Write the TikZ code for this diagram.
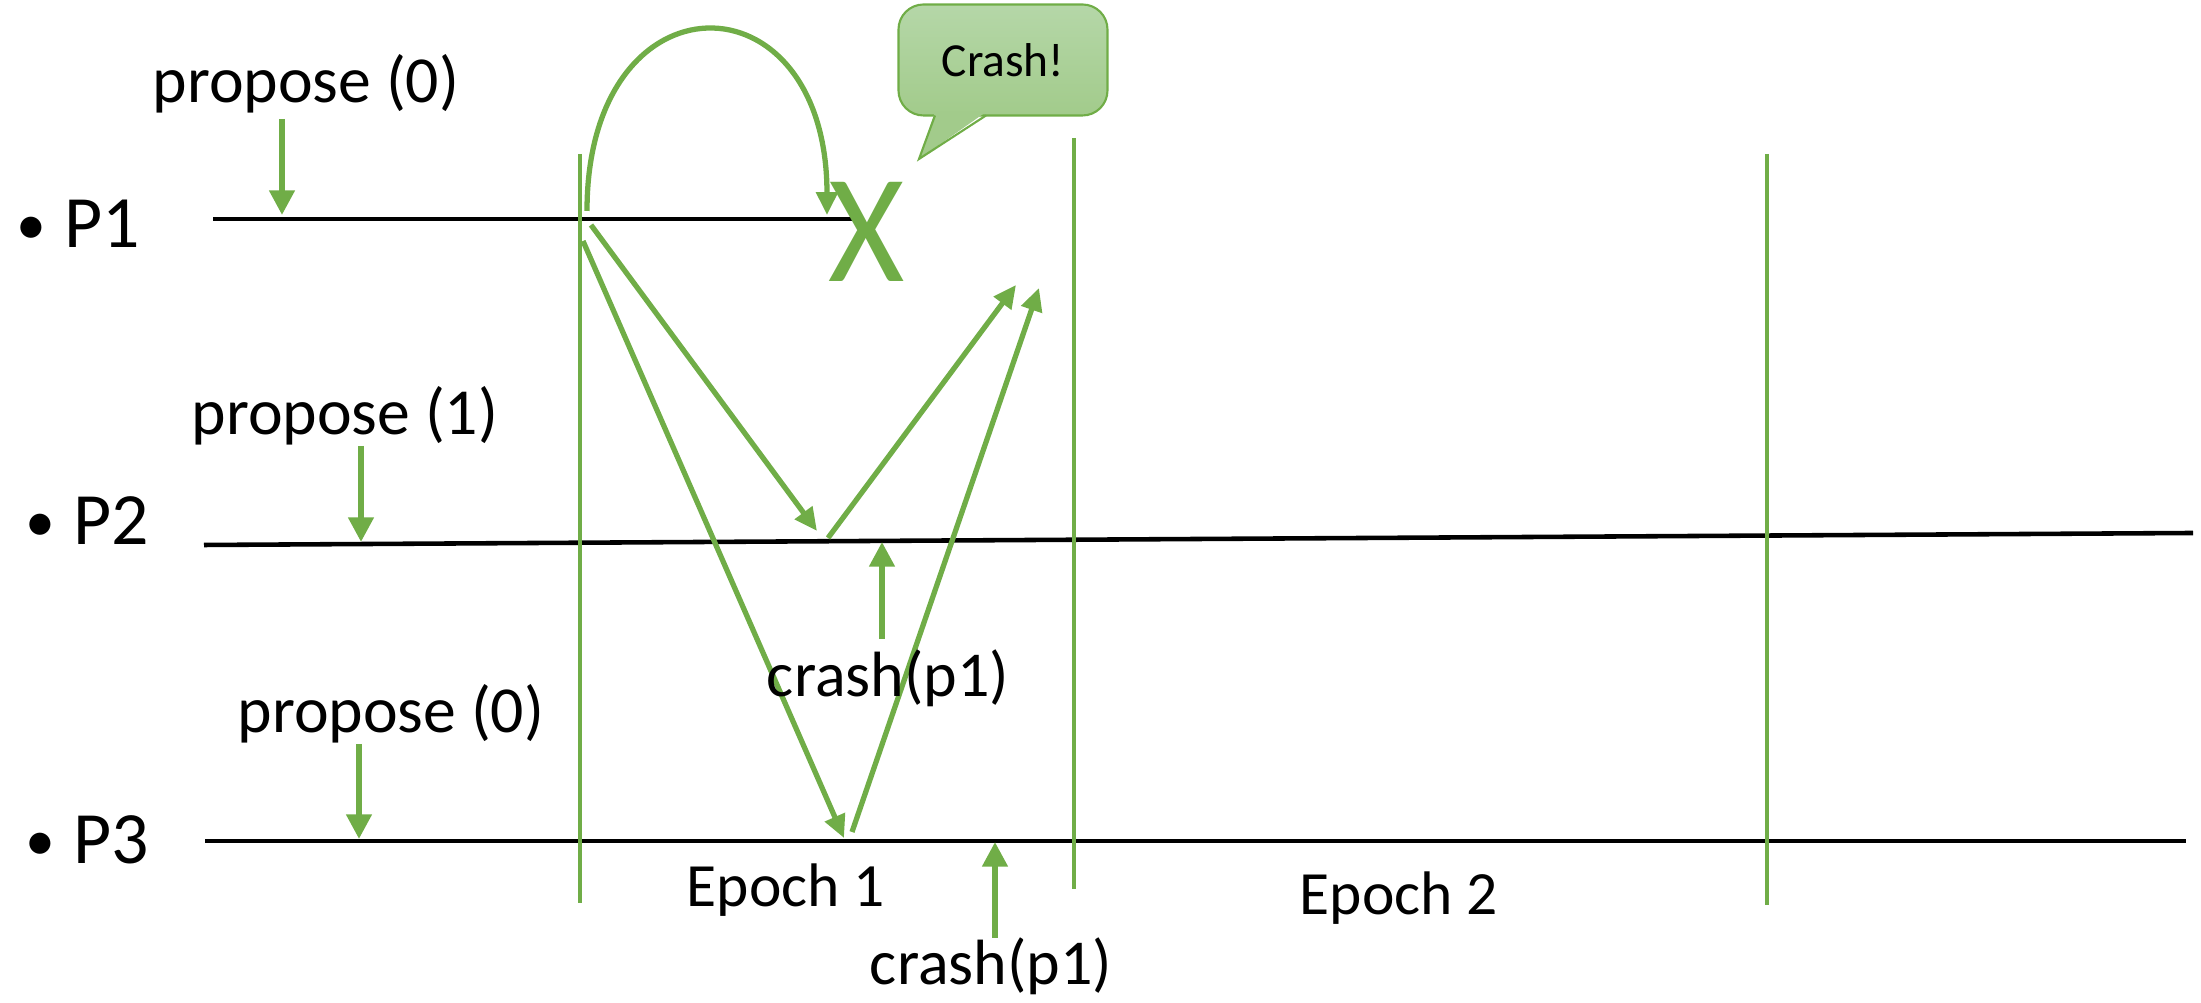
\documentclass[tikz,border=0pt]{standalone}
\usepackage{fontspec}
\setmainfont{Carlito}
\usepackage{xcolor}
\usetikzlibrary{arrows.meta}

\definecolor{accgreen}{HTML}{70AD47}
\definecolor{calltop}{HTML}{B5D7A8}
\definecolor{callbot}{HTML}{A2CB8B}

\newcommand{\plabel}[1]{{\fontsize{17}{17}\selectfont\makebox[0.485cm][l]{\raisebox{0.03cm}{\textbullet}}}#1}

\begin{document}
\begin{tikzpicture}[x=1cm,y=-1cm,
    proc/.style={line width=1.3pt},
    epoch/.style={accgreen,line width=1.1pt},
    msg/.style={accgreen,line width=1.5pt,-{Triangle[length=6.5pt,width=6pt]}},
    inp/.style={accgreen,line width=1.6pt,-{Triangle[length=7pt,width=7pt]}},
    txt/.style={font=\fontsize{18.7}{22}\selectfont,inner sep=0pt,anchor=base},
    plbl/.style={font=\fontsize{21}{26}\selectfont,inner sep=0pt,anchor=base west}]
    \useasboundingbox (0,0) rectangle (22.01,10.03);
    % process lines
    \coordinate (p1a) at (2.13,2.19);
    \coordinate (p1b) at (8.53,2.19);
    \coordinate (p2a) at (2.04,5.45);
    \coordinate (p2b) at (21.93,5.33);
    \coordinate (p3a) at (2.05,8.41);
    \coordinate (p3b) at (21.86,8.41);
    \draw[proc] (p1a) -- (p1b);
    \draw[proc] (p2a) -- (p2b);
    \draw[proc] (p3a) -- (p3b);
    \node[plbl] (p1lbl) at (0.155,2.48) {\plabel{P1}};
    \node[plbl] (p2lbl) at (0.245,5.45) {\plabel{P2}};
    \node[plbl] (p3lbl) at (0.245,8.64) {\plabel{P3}};
    % epoch borders
    \coordinate (e1t) at (5.80,1.54);
    \coordinate (e1b) at (5.80,9.03);
    \coordinate (e2t) at (10.74,1.38);
    \coordinate (e2b) at (10.74,8.89);
    \coordinate (e3t) at (17.67,1.54);
    \coordinate (e3b) at (17.67,9.05);
    \draw[epoch] (e1t) -- (e1b);
    \draw[epoch] (e2t) -- (e2b);
    \draw[epoch] (e3t) -- (e3b);
    \node[txt,font=\fontsize{17.5}{21}\selectfont] (ep1) at (7.86,9.07) {Epoch 1};
    \node[txt,font=\fontsize{17.5}{21}\selectfont] (ep2) at (13.99,9.15) {Epoch 2};
    % proposals
    \node[txt] (prop1) at (3.06,1.03) {propose (0)};
    \node[txt] (prop2) at (3.45,4.35) {propose (1)};
    \node[txt] (prop3) at (3.91,7.33) {propose (0)};
    \coordinate (in1s) at (2.82,1.19);
    \coordinate (in1) at (2.82,2.15);
    \coordinate (in2s) at (3.61,4.46);
    \coordinate (in2) at (3.61,5.42);
    \coordinate (in3s) at (3.59,7.44);
    \coordinate (in3) at (3.59,8.39);
    \draw[inp] (in1s) -- (in1);
    \draw[inp] (in2s) -- (in2);
    \draw[inp] (in3s) -- (in3);
    % crash of P1
    \node[font=\fontsize{44}{44}\selectfont,text=accgreen,inner sep=0pt] (crashx) at (8.67,2.32) {\scalebox{0.95}[1]{X}};
    \node[draw=accgreen,line width=0.6pt,top color=calltop,bottom color=callbot,
          rounded corners=0.25cm,minimum width=2.09cm,minimum height=1.11cm,
          font=\fontsize{13.5}{16}\selectfont] (bubble) at (10.03,0.60) {Crash!};
    \coordinate (tip) at (9.19,1.59);
    \fill[callbot] (9.35,1.12) -- (tip) -- (9.86,1.12) -- cycle;
    \draw[accgreen,line width=0.6pt] (9.35,1.155) -- (tip) -- (9.86,1.155);
    % messages in epoch 1
    \coordinate (s0) at (5.87,2.11);
    \coordinate (r0) at (8.27,2.15);
    \draw[msg] (s0) .. controls (5.87,-0.30) and (8.27,-0.30) .. (r0);
    \coordinate (s1) at (5.91,2.25);
    \coordinate (r1) at (8.17,5.31);
    \coordinate (s2) at (5.83,2.41);
    \coordinate (r2) at (8.44,8.38);
    \coordinate (s3) at (8.28,5.38);
    \coordinate (r3) at (10.16,2.85);
    \coordinate (s4) at (8.52,8.32);
    \coordinate (r4) at (10.39,2.88);
    \draw[msg] (s1) -- (r1);
    \draw[msg] (s2) -- (r2);
    \draw[msg] (s3) -- (r3);
    \draw[msg] (s4) -- (r4);
    % failure detector
    \node[txt,font=\fontsize{18.2}{22}\selectfont] (det2) at (8.88,6.97) {crash(p1)};
    \node[txt,font=\fontsize{18.2}{22}\selectfont] (det3) at (9.91,9.85) {crash(p1)};
    \coordinate (d2s) at (8.82,6.39);
    \coordinate (d2) at (8.82,5.42);
    \coordinate (d3s) at (9.95,9.38);
    \coordinate (d3) at (9.95,8.42);
    \draw[inp] (d2s) -- (d2);
    \draw[inp] (d3s) -- (d3);
\end{tikzpicture}
\end{document}
